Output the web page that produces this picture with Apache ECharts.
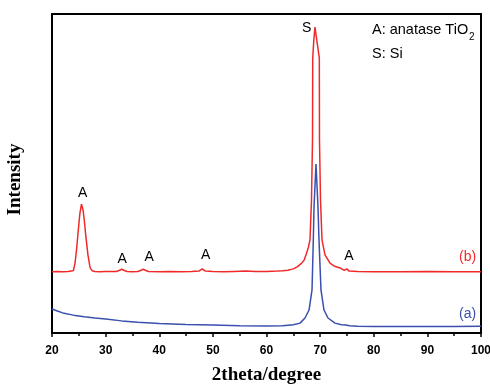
<!DOCTYPE html>
<html>
<head>
<meta charset="utf-8">
<script src="https://cdn.jsdelivr.net/npm/echarts@6/dist/echarts.min.js"></script>
<style>html,body{margin:0;padding:0;background:#fff;}#c{width:490px;height:386px;}</style>
</head>
<body>
<div id="c"></div>
<script>
// ---- data ----
var xTicks = [20, 30, 40, 50, 60, 70, 80, 90, 100];

var twoThetaB = [20, 21, 22, 23, 23.6, 24.0, 24.3, 24.6, 24.9, 25.2, 25.5, 25.8, 26.1, 26.3, 26.7, 27.1, 27.5, 28, 29, 30, 31, 32, 32.5, 33, 33.5, 34, 35, 36, 36.5, 37, 37.5, 38, 40, 42, 44, 46, 47.4, 48, 48.6, 50, 52, 54, 56, 58, 60, 62, 63, 64, 65, 65.31, 65.8, 66.56, 67, 67.37, 67.8, 68.11, 68.39, 68.58, 68.62, 68.82, 69.04, 69.38, 69.85, 69.88, 70.07, 70.35, 70.91, 71.84, 72.7, 73.71, 74.5, 75, 75.4, 77, 80, 85, 90, 95, 100];
var intensityB = [19.2, 19.3, 19.2, 19.3, 19.4, 19.6, 22.0, 26.5, 32.3, 37.5, 40.4, 38.5, 34.0, 30.5, 24.5, 20.5, 19.5, 19.3, 19.2, 19.3, 19.3, 19.3, 19.6, 20.0, 19.6, 19.3, 19.2, 19.3, 19.6, 20.0, 19.6, 19.3, 19.2, 19.3, 19.2, 19.3, 19.4, 20.1, 19.4, 19.3, 19.2, 19.3, 19.4, 19.3, 19.3, 19.4, 19.5, 19.7, 20.1, 20.4, 20.8, 21.9, 22.8, 24.5, 26.8, 29.2, 41.7, 60.5, 86.2, 91.8, 95.9, 91.8, 86.2, 60.5, 41.7, 29.2, 24.5, 21.9, 20.9, 20.4, 19.6, 20.1, 19.4, 19.3, 19.2, 19.2, 19.3, 19.2, 19.2];

var twoThetaA = [20, 21, 22, 24, 26, 28, 30, 33, 36, 40, 45, 50, 55, 60, 63, 65, 66.25, 67.18, 67.93, 68.49, 68.73, 68.86, 69.23, 69.6, 69.79, 70.16, 70.72, 71.47, 72.77, 74, 74.8, 75.1, 75.5, 77, 80, 85, 90, 95, 100];
var intensityA = [7.5, 6.9, 6.3, 5.6, 5.1, 4.7, 4.4, 3.8, 3.4, 3.0, 2.7, 2.5, 2.3, 2.2, 2.3, 2.6, 3.1, 4.7, 7.2, 13.5, 29.2, 39.5, 53.0, 39.5, 29.2, 13.5, 7.2, 4.7, 3.1, 2.6, 2.5, 2.8, 2.3, 2.1, 2.0, 2.0, 2.0, 2.0, 2.1];

// peak annotations (text anchor in data units)
var peakText = ['A', 'A', 'A', 'A', 'S', 'A'];
var peakX = [25.72, 33.1, 38.1, 48.66, 67.5, 75.38];
var peakY = [43.8, 23.1, 23.7, 24.4, 95.5, 24.1];

var curveText = ['(b)', '(a)'];
var curveX = [97.5, 97.5];
var curveY = [23.9, 6.0];

var legendMain = ['A: anatase TiO', 'S: Si'];
var legendSub = '2';

// ---- chart ----
var red = '#f02a2a', blue = '#3a4fae';
function pairs(xs, ys) { return xs.map(function (x, i) { return [x, ys[i]]; }); }
function labelData(xs, ys, ts, colors) {
  return xs.map(function (x, i) {
    var d = { value: [x, ys[i]], name: ts[i] };
    if (colors) d.label = { color: colors[i] };
    return d;
  });
}

var chart = echarts.init(document.getElementById('c'), null, { renderer: 'canvas' });
chart.setOption({
  animation: false,
  backgroundColor: '#fff',
  grid: { left: 52, right: 9, top: 14, bottom: 53, outerBoundsMode: 'none', containLabel: false,
    show: true, borderColor: '#000', borderWidth: 2, backgroundColor: 'transparent' },
  xAxis: {
    type: 'value', min: xTicks[0], max: xTicks[xTicks.length - 1], interval: 10,
    name: '2theta/degree', nameLocation: 'middle', nameGap: 33,
    nameTextStyle: { fontFamily: 'Liberation Serif', fontWeight: 'bold', fontSize: 19, color: '#000' },
    axisLine: { show: true, lineStyle: { color: '#000', width: 2 } },
    axisTick: { show: true, inside: false, length: 4, lineStyle: { color: '#000', width: 1.5 } },
    minorTick: { show: true, splitNumber: 2, length: 3, lineStyle: { color: '#000', width: 1.5 } },
    axisLabel: { fontFamily: 'Liberation Sans', fontWeight: 'bold', fontSize: 12, color: '#000', margin: 12 },
    splitLine: { show: false }
  },
  yAxis: {
    type: 'value', min: 0, max: 100,
    name: 'Intensity', nameLocation: 'middle', nameGap: 27, nameRotate: 90,
    nameTextStyle: { fontFamily: 'Liberation Serif', fontWeight: 'bold', fontSize: 19, color: '#000', padding: [0, 12, 0, 0] },
    axisLine: { show: true, lineStyle: { color: '#000', width: 2 } },
    axisTick: { show: false }, axisLabel: { show: false }, splitLine: { show: false }
  },
  series: [
    { type: 'line', data: pairs(twoThetaB, intensityB), showSymbol: false, lineStyle: { color: red, width: 1.5 }, itemStyle: { color: red }, z: 3 },
    { type: 'line', data: pairs(twoThetaA, intensityA), showSymbol: false, lineStyle: { color: blue, width: 1.5 }, itemStyle: { color: blue }, z: 2 },
    { type: 'scatter', data: labelData(peakX, peakY, peakText), symbolSize: 1, itemStyle: { color: 'rgba(0,0,0,0)' }, silent: true,
      label: { show: true, position: 'inside', formatter: '{b}', fontFamily: 'Liberation Sans', fontSize: 14, color: '#000', textBorderWidth: 0, opacity: 1 } },
    { type: 'scatter', data: labelData(curveX, curveY, curveText, [red, blue]), symbolSize: 1, itemStyle: { color: 'rgba(0,0,0,0)' }, silent: true,
      label: { show: true, position: 'inside', formatter: '{b}', fontFamily: 'Liberation Sans', fontSize: 14, textBorderWidth: 0, opacity: 1 } }
  ],
  graphic: [
    { type: 'text', left: 372, top: 22, style: { text: legendMain[0], font: '14.5px "Liberation Sans"', fill: '#000' } },
    { type: 'text', left: 469, top: 32, style: { text: legendSub, font: '10px "Liberation Sans"', fill: '#000' } },
    { type: 'text', left: 372, top: 46, style: { text: legendMain[1], font: '14.5px "Liberation Sans"', fill: '#000' } }
  ]
});
</script>
</body>
</html>
